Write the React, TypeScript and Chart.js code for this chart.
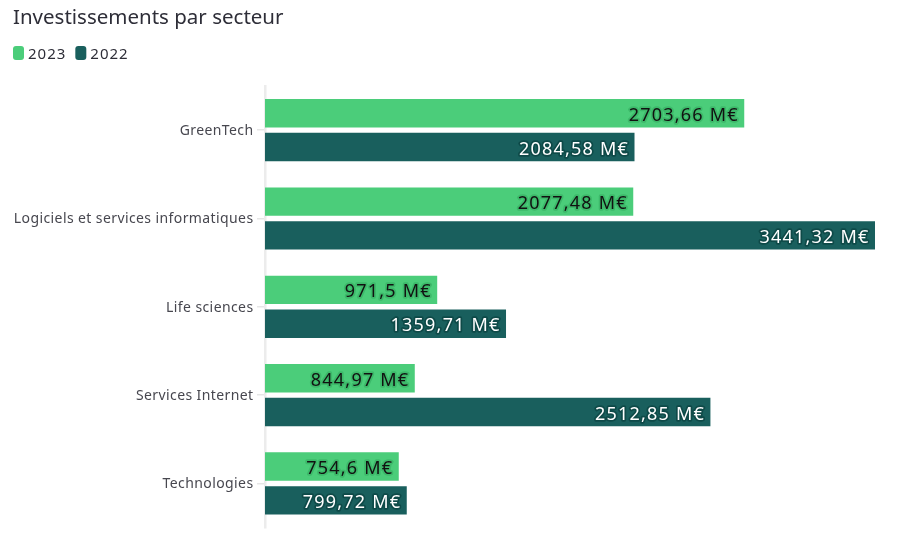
import React, { useEffect, useRef } from "react";
import { Chart, registerables } from "chart.js";

Chart.register(...registerables);

const categories = [
  "GreenTech",
  "Logiciels et services informatiques",
  "Life sciences",
  "Services Internet",
  "Technologies",
];
const series2023 = [2703.66, 2077.48, 971.5, 844.97, 754.6];
const series2022 = [2084.58, 3441.32, 1359.71, 2512.85, 799.72];
const seriesLabels = ["2023", "2022"];
const titleText = "Investissements par secteur";
const unit = "M€";

const GREEN = "#4bcd7a";
const TEAL = "#195f5d";
const FONT = "'Noto Sans', sans-serif";

const fmt = (v: number) => `${String(v).replace(".", ",")} ${unit}`;

const headerPlugin = {
  id: "header",
  afterDraw(chart: any) {
    const ctx = chart.ctx;
    ctx.save();
    ctx.fillStyle = "#2e2e38";
    ctx.font = `20.5px ${FONT}`;
    (ctx as any).letterSpacing = "0px";
    ctx.textBaseline = "alphabetic";
    ctx.textAlign = "left";
    ctx.fillText(titleText, 5, 16);
    // legend
    let x = 5;
    const y = 38;
    ctx.font = `15px ${FONT}`;
    (ctx as any).letterSpacing = "1px";
    chart.data.datasets.forEach((ds: any) => {
      ctx.fillStyle = ds.backgroundColor;
      ctx.beginPath();
      (ctx as any).roundRect(x, y, 11, 14, 3);
      ctx.fill();
      ctx.fillStyle = "#2e2e38";
      ctx.textBaseline = "alphabetic";
      ctx.fillText(ds.label, x + 15, y + 12.5);
      x += 15 + ctx.measureText(ds.label).width + 9;
    });
    ctx.restore();
  },
};

const categoryLabelPlugin = {
  id: "categoryLabels",
  afterDraw(chart: any) {
    const ctx = chart.ctx;
    const scale = chart.scales.y;
    ctx.save();
    ctx.font = `14px ${FONT}`;
    (ctx as any).letterSpacing = "0.4px";
    ctx.fillStyle = "#47474f";
    ctx.textAlign = "right";
    ctx.textBaseline = "alphabetic";
    categories.forEach((c, i) => {
      const y = scale.getPixelForTick(i);
      ctx.fillText(c, scale.right - 11.5, y + 5);
    });
    ctx.restore();
  },
};

const valueLabelPlugin = {
  id: "valueLabels",
  afterDatasetsDraw(chart: any) {
    const ctx = chart.ctx;
    ctx.save();
    ctx.font = `18px ${FONT}`;
    (ctx as any).letterSpacing = "1.2px";
    ctx.textAlign = "right";
    ctx.textBaseline = "alphabetic";
    ctx.lineJoin = "round";
    chart.data.datasets.forEach((ds: any, di: number) => {
      const meta = chart.getDatasetMeta(di);
      meta.data.forEach((bar: any, i: number) => {
        const text = fmt(ds.data[i]);
        const x = bar.x - 5.5;
        const y = bar.y + 7.5;
        ctx.lineWidth = 3.5;
        ctx.strokeStyle = di === 0 ? "#3db96a" : "#0e4a48";
        ctx.strokeText(text, x, y);
        ctx.fillStyle = di === 0 ? "#111111" : "#ffffff";
        ctx.fillText(text, x, y);
      });
    });
    ctx.restore();
  },
};

export default function App() {
  const ref = useRef<HTMLCanvasElement | null>(null);
  useEffect(() => {
    if (!ref.current) return;
    const chart = new Chart(ref.current, {
      type: "bar",
      data: {
        labels: categories,
        datasets: [
          { label: seriesLabels[0], data: series2023, backgroundColor: GREEN },
          { label: seriesLabels[1], data: series2022, backgroundColor: TEAL },
        ],
      },
      options: {
        indexAxis: "y",
        animation: false,
        responsive: true,
        maintainAspectRatio: false,
        layout: { padding: { top: 78, right: 25, bottom: 9, left: 0 } },
        datasets: {
          bar: { categoryPercentage: 0.765, barPercentage: 0.84 },
        } as any,
        plugins: {
          legend: { display: false },
          title: { display: false },
          tooltip: { enabled: false },
        },
        scales: {
          x: { display: false, min: 0, max: 3441.32 },
          y: {
            afterFit: (s: any) => {
              s.width = 257;
            },
            grid: {
              display: true,
              drawOnChartArea: false,
              drawTicks: true,
              tickLength: 8,
              offset: false,
              color: "#e6e6e6",
              lineWidth: 1.5,
            },
            border: { display: true, color: "#ececec", width: 2.5 },
            ticks: {
              padding: 4,
              color: "rgba(0,0,0,0)",
              font: { family: FONT, size: 14 },
            },
          },
        },
      },
      plugins: [headerPlugin, categoryLabelPlugin, valueLabelPlugin],
    });
    return () => chart.destroy();
  }, []);
  return (
    <div style={{ width: 892, height: 532 }}>
      <canvas ref={ref} />
    </div>
  );
}
